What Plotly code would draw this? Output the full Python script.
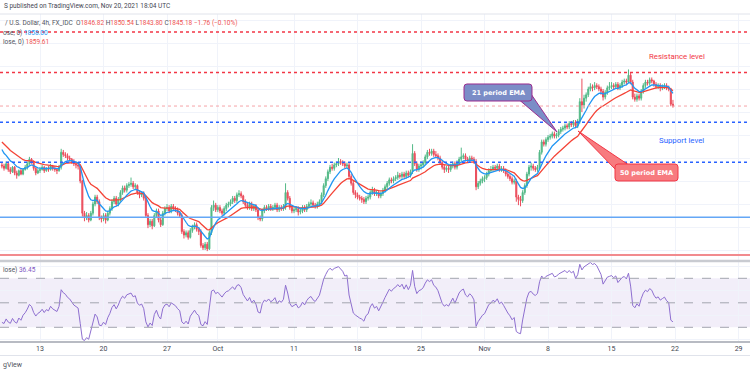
import plotly.graph_objects as go

# ---------------- data ----------------
bar_index = list(range(-18, 300))          # 4h bars, Sep 13 00:00 = 0
first_open = 1794.0
closes = [
    1793, 1791, 1795, 1790, 1788, 1792,
    1787, 1785, 1789, 1786, 1790, 1792,
    1795, 1799, 1797, 1791, 1787, 1789,
    1790, 1792, 1789, 1791, 1790, 1793,
    1791, 1790, 1789, 1792, 1805, 1803,
    1802, 1800, 1799, 1797, 1795, 1794,
    1793, 1780, 1752, 1748, 1750, 1746,
    1752, 1760, 1766, 1762, 1748, 1747,
    1750, 1746, 1752, 1756, 1762, 1765,
    1760, 1764, 1770, 1774, 1772, 1776,
    1777, 1778, 1775, 1776, 1770, 1768,
    1769, 1765, 1750, 1742, 1745, 1741,
    1750, 1754, 1746, 1742, 1752, 1756,
    1757, 1754, 1758, 1756, 1755, 1752,
    1750, 1736, 1733, 1735, 1731, 1737,
    1740, 1742, 1738, 1736, 1724, 1722,
    1725, 1721, 1735, 1757, 1759, 1755,
    1757, 1754, 1752, 1756, 1759, 1760,
    1762, 1765, 1763, 1768, 1769, 1767,
    1762, 1759, 1757, 1760, 1756, 1758,
    1755, 1748, 1747, 1754, 1757, 1756,
    1758, 1756, 1757, 1759, 1755, 1757,
    1756, 1758, 1770, 1765, 1757, 1754,
    1755, 1756, 1753, 1754, 1757, 1755,
    1758, 1760, 1761, 1759, 1758, 1760,
    1762, 1768, 1776, 1782, 1788, 1792,
    1791, 1794, 1795, 1797, 1796, 1795,
    1793, 1794, 1784, 1778, 1770, 1768,
    1766, 1765, 1764, 1762, 1765, 1766,
    1770, 1772, 1769, 1770, 1767, 1769,
    1772, 1775, 1778, 1781, 1780, 1782,
    1783, 1785, 1784, 1786, 1784, 1787,
    1785, 1788, 1804, 1795, 1790, 1793,
    1794, 1796, 1801, 1805, 1804, 1806,
    1803, 1802, 1800, 1796, 1792, 1790,
    1791, 1790, 1793, 1795, 1792, 1796,
    1799, 1801, 1802, 1799, 1798, 1800,
    1799, 1797, 1775, 1778, 1780, 1782,
    1783, 1786, 1789, 1790, 1792, 1791,
    1793, 1790, 1791, 1789, 1786, 1784,
    1782, 1779, 1780, 1766, 1764, 1763,
    1770, 1776, 1786, 1792, 1793, 1791,
    1790, 1792, 1805, 1814, 1812, 1816,
    1818, 1819, 1821, 1819, 1820, 1823,
    1825, 1826, 1828, 1827, 1830, 1829,
    1831, 1828, 1832, 1849, 1846, 1852,
    1855, 1860, 1862, 1861, 1863, 1862,
    1860, 1858, 1853, 1857, 1861, 1862,
    1863, 1862, 1864, 1861, 1863, 1866,
    1867, 1866, 1872, 1866, 1853, 1851,
    1854, 1852, 1858, 1863, 1866, 1865,
    1868, 1867, 1864, 1862, 1863, 1861,
    1862, 1863, 1861, 1860, 1846.82, 1845.18,
]
highs = [
    1796, 1795, 1797, 1797, 1792, 1793,
    1793, 1789, 1790, 1791, 1791, 1794,
    1797, 1801, 1800, 1798, 1792, 1791,
    1792, 1794, 1793, 1792, 1793, 1795,
    1794, 1793, 1791, 1794, 1808, 1807,
    1805, 1804, 1802, 1800, 1799, 1797,
    1796, 1794, 1781, 1754, 1753, 1752,
    1754, 1762, 1768, 1768, 1764, 1750,
    1752, 1752, 1754, 1758, 1764, 1767,
    1767, 1766, 1772, 1776, 1776, 1778,
    1779, 1783, 1780, 1778, 1777, 1772,
    1771, 1771, 1767, 1752, 1747, 1747,
    1752, 1756, 1756, 1748, 1754, 1758,
    1760, 1759, 1760, 1760, 1758, 1757,
    1754, 1752, 1738, 1737, 1737, 1739,
    1742, 1744, 1744, 1740, 1738, 1726,
    1727, 1727, 1737, 1759, 1763, 1761,
    1759, 1759, 1756, 1758, 1761, 1762,
    1764, 1767, 1767, 1770, 1772, 1771,
    1768, 1764, 1761, 1762, 1762, 1760,
    1760, 1757, 1750, 1756, 1759, 1759,
    1760, 1760, 1759, 1761, 1761, 1759,
    1759, 1760, 1778, 1772, 1767, 1759,
    1757, 1758, 1758, 1756, 1759, 1759,
    1760, 1762, 1764, 1763, 1761, 1762,
    1764, 1770, 1778, 1784, 1790, 1794,
    1795, 1796, 1797, 1800, 1799, 1798,
    1797, 1796, 1796, 1786, 1780, 1772,
    1770, 1768, 1767, 1766, 1767, 1768,
    1772, 1775, 1774, 1772, 1772, 1771,
    1774, 1777, 1780, 1783, 1783, 1784,
    1785, 1788, 1787, 1788, 1788, 1789,
    1789, 1790, 1812, 1806, 1797, 1795,
    1797, 1798, 1803, 1807, 1808, 1808,
    1808, 1806, 1804, 1802, 1798, 1794,
    1793, 1793, 1795, 1797, 1797, 1798,
    1801, 1809, 1804, 1804, 1801, 1802,
    1802, 1801, 1799, 1780, 1782, 1784,
    1785, 1788, 1791, 1793, 1794, 1794,
    1795, 1795, 1793, 1793, 1791, 1788,
    1786, 1784, 1782, 1782, 1768, 1767,
    1772, 1778, 1788, 1794, 1796, 1795,
    1793, 1794, 1807, 1816, 1816, 1818,
    1820, 1821, 1823, 1823, 1822, 1825,
    1827, 1828, 1830, 1830, 1832, 1832,
    1833, 1833, 1834, 1852, 1869, 1855,
    1857, 1862, 1865, 1864, 1866, 1865,
    1864, 1862, 1860, 1859, 1863, 1866,
    1866, 1865, 1866, 1866, 1865, 1868,
    1869, 1869, 1877, 1874, 1868, 1856,
    1856, 1856, 1860, 1865, 1868, 1868,
    1870, 1870, 1868, 1866, 1865, 1865,
    1864, 1865, 1865, 1863, 1861, 1850.54,
]
lows = [
    1791, 1789, 1790, 1788, 1786, 1787,
    1785, 1782, 1784, 1785, 1785, 1789,
    1790, 1794, 1795, 1789, 1785, 1786,
    1787, 1789, 1787, 1788, 1788, 1789,
    1789, 1788, 1786, 1788, 1790, 1801,
    1800, 1798, 1797, 1795, 1793, 1791,
    1790, 1778, 1749, 1745, 1746, 1744,
    1745, 1750, 1758, 1760, 1746, 1744,
    1745, 1743, 1745, 1750, 1754, 1760,
    1758, 1758, 1762, 1768, 1770, 1770,
    1774, 1775, 1773, 1773, 1768, 1765,
    1766, 1763, 1748, 1739, 1740, 1738,
    1740, 1748, 1744, 1740, 1741, 1750,
    1754, 1752, 1752, 1754, 1753, 1750,
    1748, 1734, 1730, 1731, 1729, 1730,
    1735, 1738, 1736, 1733, 1722, 1720,
    1720, 1719, 1720, 1733, 1754, 1753,
    1753, 1752, 1750, 1750, 1754, 1757,
    1758, 1760, 1761, 1761, 1766, 1765,
    1760, 1757, 1755, 1755, 1754, 1754,
    1753, 1746, 1745, 1745, 1752, 1754,
    1754, 1754, 1754, 1755, 1753, 1753,
    1754, 1754, 1755, 1763, 1755, 1752,
    1752, 1753, 1750, 1751, 1752, 1753,
    1753, 1756, 1758, 1757, 1756, 1756,
    1758, 1760, 1766, 1774, 1780, 1786,
    1789, 1789, 1792, 1793, 1794, 1793,
    1791, 1791, 1782, 1776, 1768, 1765,
    1764, 1763, 1761, 1760, 1760, 1763,
    1764, 1768, 1767, 1767, 1765, 1765,
    1767, 1770, 1773, 1776, 1778, 1778,
    1780, 1781, 1782, 1782, 1782, 1782,
    1783, 1783, 1786, 1793, 1788, 1788,
    1790, 1792, 1794, 1799, 1802, 1802,
    1801, 1800, 1798, 1794, 1790, 1787,
    1788, 1787, 1788, 1791, 1790, 1790,
    1794, 1797, 1799, 1797, 1796, 1796,
    1797, 1795, 1772, 1773, 1776, 1778,
    1779, 1781, 1784, 1787, 1788, 1789,
    1789, 1788, 1788, 1787, 1784, 1782,
    1780, 1777, 1777, 1762, 1759, 1758,
    1761, 1768, 1774, 1784, 1789, 1789,
    1788, 1788, 1790, 1803, 1810, 1810,
    1814, 1816, 1817, 1817, 1817, 1818,
    1821, 1823, 1824, 1825, 1825, 1827,
    1827, 1826, 1826, 1830, 1840, 1843,
    1849, 1853, 1858, 1858, 1859, 1860,
    1858, 1855, 1850, 1851, 1855, 1859,
    1860, 1860, 1860, 1859, 1859, 1861,
    1864, 1864, 1865, 1864, 1851, 1849,
    1849, 1850, 1850, 1856, 1861, 1863,
    1863, 1865, 1862, 1860, 1860, 1858,
    1859, 1860, 1859, 1858, 1845, 1843.80,
]
tick_vals = [0, 30, 60, 84, 120, 150, 180, 210, 240, 270, 300, 330]
tick_text = ["13", "20", "27", "Oct", "11", "18", "25", "Nov", "8", "15", "22", "29"]
resistance_levels = [1909.6, 1874.3]
last_price = 1845.18
support_levels = [1831.0, 1796.3]
blue_line_level = 1748.4
red_line_level = 1715.6
# moving-average lines as drawn (blue = fast, red = slow)
ema_fast_period, ema_fast_seed = 9, 1811.0
ema_slow_period, ema_slow_seed = 21, 1816.0
rsi_seed_gain = 2.0
rsi_seed_loss = 3.8
rsi_levels = [30, 50, 70]

assert len(closes) == len(highs) == len(lows) == len(bar_index)

opens = [first_open] + closes[:-1]


def ema(values, period, seed):
    a = 2.0 / (period + 1)
    out, e = [], seed
    for v in values:
        e = e + a * (v - e)
        out.append(e)
    return out


def rsi(values, period, g0, l0, prev0):
    ag, al, prev, out = g0, l0, prev0, []
    for v in values:
        d = v - prev
        prev = v
        ag = (ag * (period - 1) + max(d, 0)) / period
        al = (al * (period - 1) + max(-d, 0)) / period
        out.append(100 - 100 / (1 + ag / al) if al > 0 else 100)
    return out


ema_fast = ema(closes, ema_fast_period, ema_fast_seed)
ema_slow = ema(closes, ema_slow_period, ema_slow_seed)
rsi14 = rsi(closes, 14, rsi_seed_gain, rsi_seed_loss, first_open)

# ---------------- geometry helpers (pixels -> paper) ----------------
W, PH = 750, 341.0


def X(px):
    return px / W


def Y(py):
    return 1 - py / PH


UP, DN = "#53b987", "#eb4d5c"
GRID = "#f0f3fa"
FONT = "Roboto"

fig = go.Figure()
fig.add_trace(go.Candlestick(
    x=bar_index, open=opens, high=highs, low=lows, close=closes,
    increasing=dict(line=dict(color=UP, width=1), fillcolor=UP),
    decreasing=dict(line=dict(color=DN, width=1), fillcolor=DN),
    whiskerwidth=0, xaxis="x", yaxis="y", hoverinfo="skip"))
fig.add_trace(go.Scatter(x=bar_index, y=ema_slow, mode="lines",
                         line=dict(color="#f44336", width=1.3), xaxis="x", yaxis="y"))
fig.add_trace(go.Scatter(x=bar_index, y=ema_fast, mode="lines",
                         line=dict(color="#2196f3", width=1.3), xaxis="x", yaxis="y"))
fig.add_trace(go.Scatter(x=bar_index, y=rsi14, mode="lines",
                         line=dict(color="#8e6fd0", width=1), xaxis="x", yaxis="y2"))

shapes = []
# RSI band and levels
shapes.append(dict(type="rect", xref="paper", yref="y2", x0=0, x1=1,
                   y0=rsi_levels[0], y1=rsi_levels[2], fillcolor="rgba(126,87,194,0.10)",
                   line=dict(width=0), layer="below"))
for lv in rsi_levels:
    shapes.append(dict(type="line", xref="paper", yref="y2", x0=0, x1=1, y0=lv, y1=lv,
                       line=dict(color="#a3a6af", width=1, dash="dash")))
# horizontal drawing levels
for lv in resistance_levels:
    shapes.append(dict(type="line", xref="paper", yref="y", x0=0, x1=1, y0=lv, y1=lv,
                       line=dict(color="#f23645", width=1.5, dash="dot")))
shapes.append(dict(type="line", xref="paper", yref="y", x0=0, x1=1, y0=last_price, y1=last_price,
                   line=dict(color="#f5a3a7", width=1, dash="dot")))
for lv in support_levels:
    shapes.append(dict(type="line", xref="paper", yref="y", x0=0, x1=1, y0=lv, y1=lv,
                       line=dict(color="#2962ff", width=1.5, dash="dot")))
shapes.append(dict(type="line", xref="paper", yref="y", x0=0, x1=1, y0=blue_line_level,
                   y1=blue_line_level, line=dict(color="#64a7f6", width=1.5)))
shapes.append(dict(type="line", xref="paper", yref="y", x0=0, x1=1, y0=red_line_level,
                   y1=red_line_level, line=dict(color="#f28b8e", width=2)))
# frame lines
shapes.append(dict(type="line", xref="paper", yref="paper", x0=0, x1=1, y0=Y(14), y1=Y(14),
                   line=dict(color="#e0e3eb", width=1)))
shapes.append(dict(type="line", xref="paper", yref="paper", x0=0, x1=1, y0=Y(261), y1=Y(261),
                   line=dict(color="#c9cbd1", width=2.5)))
shapes.append(dict(type="line", xref="paper", yref="paper", x0=0, x1=1, y0=Y(355.5), y1=Y(355.5),
                   line=dict(color="#e0e3eb", width=1)))


def rrect(x0, y0, x1, y1, r):
    p = [(x0 + r, y0), (x1 - r, y0), ("Q", x1, y0, x1, y0 + r), (x1, y1 - r),
         ("Q", x1, y1, x1 - r, y1), (x0 + r, y1), ("Q", x0, y1, x0, y1 - r),
         (x0, y0 + r), ("Q", x0, y0, x0 + r, y0)]
    s = "M%.5f,%.5f" % (X(p[0][0]), Y(p[0][1]))
    for q in p[1:]:
        if q[0] == "Q":
            s += " Q%.5f,%.5f %.5f,%.5f" % (X(q[1]), Y(q[2]), X(q[3]), Y(q[4]))
        else:
            s += " L%.5f,%.5f" % (X(q[0]), Y(q[1]))
    return s + " Z"


def tri(pts):
    s = "M" + " L".join("%.5f,%.5f" % (X(a), Y(b)) for a, b in pts)
    return s + " Z"


# 21 EMA callout
shapes.append(dict(type="path", xref="paper", yref="paper",
                   path=tri([(520, 100.5), (531, 94), (557, 132)]),
                   fillcolor="#7b8dc7", line=dict(color="#9b2c8f", width=1)))
shapes.append(dict(type="path", xref="paper", yref="paper",
                   path=rrect(464, 84, 532, 101, 3),
                   fillcolor="#7b8dc7", line=dict(color="#9b2c8f", width=1)))
# 50 EMA callout
shapes.append(dict(type="path", xref="paper", yref="paper",
                   path=tri([(616, 170), (628, 164.5), (578, 131)]),
                   fillcolor="#f77b7f", line=dict(color="#f23645", width=1)))
shapes.append(dict(type="path", xref="paper", yref="paper",
                   path=rrect(615, 164, 678, 181, 3),
                   fillcolor="#f77b7f", line=dict(color="#f23645", width=1)))

GRAY = "#50535e"
RED = "#ef5350"
ann = []


def A(text, px, py, size, color=GRAY, anchor="left", family=FONT):
    ann.append(dict(text=text, xref="paper", yref="paper", x=X(px), y=Y(py),
                    xanchor=anchor, yanchor="middle", showarrow=False,
                    font=dict(size=size, color=color, family=family)))


def c(t, col):
    return "<span style='color:%s'>%s</span>" % (col, t)


# header texts (the reference shows them cropped at the left edge)
A("S published on TradingView.com, Nov 20, 2021 18:04 UTC", 1.5, 6.5, 6.5, "#434651", "left")
A("/ U.S. Dollar, 4h, FX_IDC  O" + c("1846.82", RED) + " H" + c("1850.54", RED)
  + " L" + c("1843.80", RED) + " C" + c("1845.18", RED) + " " + c("\u22121.76 (\u22120.10%)", RED),
  3, 23, 6.5, GRAY, "left")
A("ose, 0) " + c("1858.00", "#2196f3"), 0.5, 32.5, 6.5, GRAY, "left")
A("lose, 0) " + c("1859.61", RED), 0.5, 41.5, 6.5, GRAY, "left")
A("lose) " + c("36.45", "#7e57c2"), 0.5, 270, 6.5, GRAY, "left")
A("gView", 0.5, 365, 7, "#50535e", "left")
A("Resistance level", 677, 57, 7.8, "#f23645", "center")
A("Support level", 681.5, 140, 7.8, "#2962ff", "center")
A("<b>21 period EMA</b>", 498, 92.5, 6.5, "white", "center", "DejaVu Sans")
A("<b>50 period EMA</b>", 646.5, 172.5, 6.5, "white", "center", "DejaVu Sans")

p_top = 1840 + (112 - 14) * (20 / 23.0)
p_bot = 1840 - (260 - 112) * (20 / 23.0)
r_top = 70 + (278.3 - 262) / 1.225
r_bot = 30 - (341 - 327.3) / 1.225

fig.update_layout(
    width=750, height=375, margin=dict(l=0, r=0, t=0, b=34),
    paper_bgcolor="white", plot_bgcolor="white", showlegend=False,
    hovermode=False, shapes=shapes, annotations=ann,
    xaxis=dict(range=[-18.9, 335.4], tickvals=tick_vals, ticktext=tick_text,
               showgrid=True, gridcolor=GRID, gridwidth=1, zeroline=False,
               showline=True, linecolor="#b8bbc3", linewidth=1.5, ticks="",
               tickfont=dict(size=7, color="#434651", family=FONT),
               anchor="y2", rangeslider=dict(visible=False), fixedrange=True),
    yaxis=dict(domain=[Y(260), Y(14)], range=[p_bot, p_top], tick0=1720, dtick=20,
               showticklabels=False, showgrid=True, gridcolor=GRID, zeroline=False),
    yaxis2=dict(domain=[0, Y(262)], range=[r_bot, r_top], tickvals=[20, 40, 60, 80],
                showticklabels=False, showgrid=True, gridcolor=GRID, zeroline=False),
)

fig.write_html("out.html", config={"displayModeBar": False},
               post_script="document.body.style.margin='0px';")
